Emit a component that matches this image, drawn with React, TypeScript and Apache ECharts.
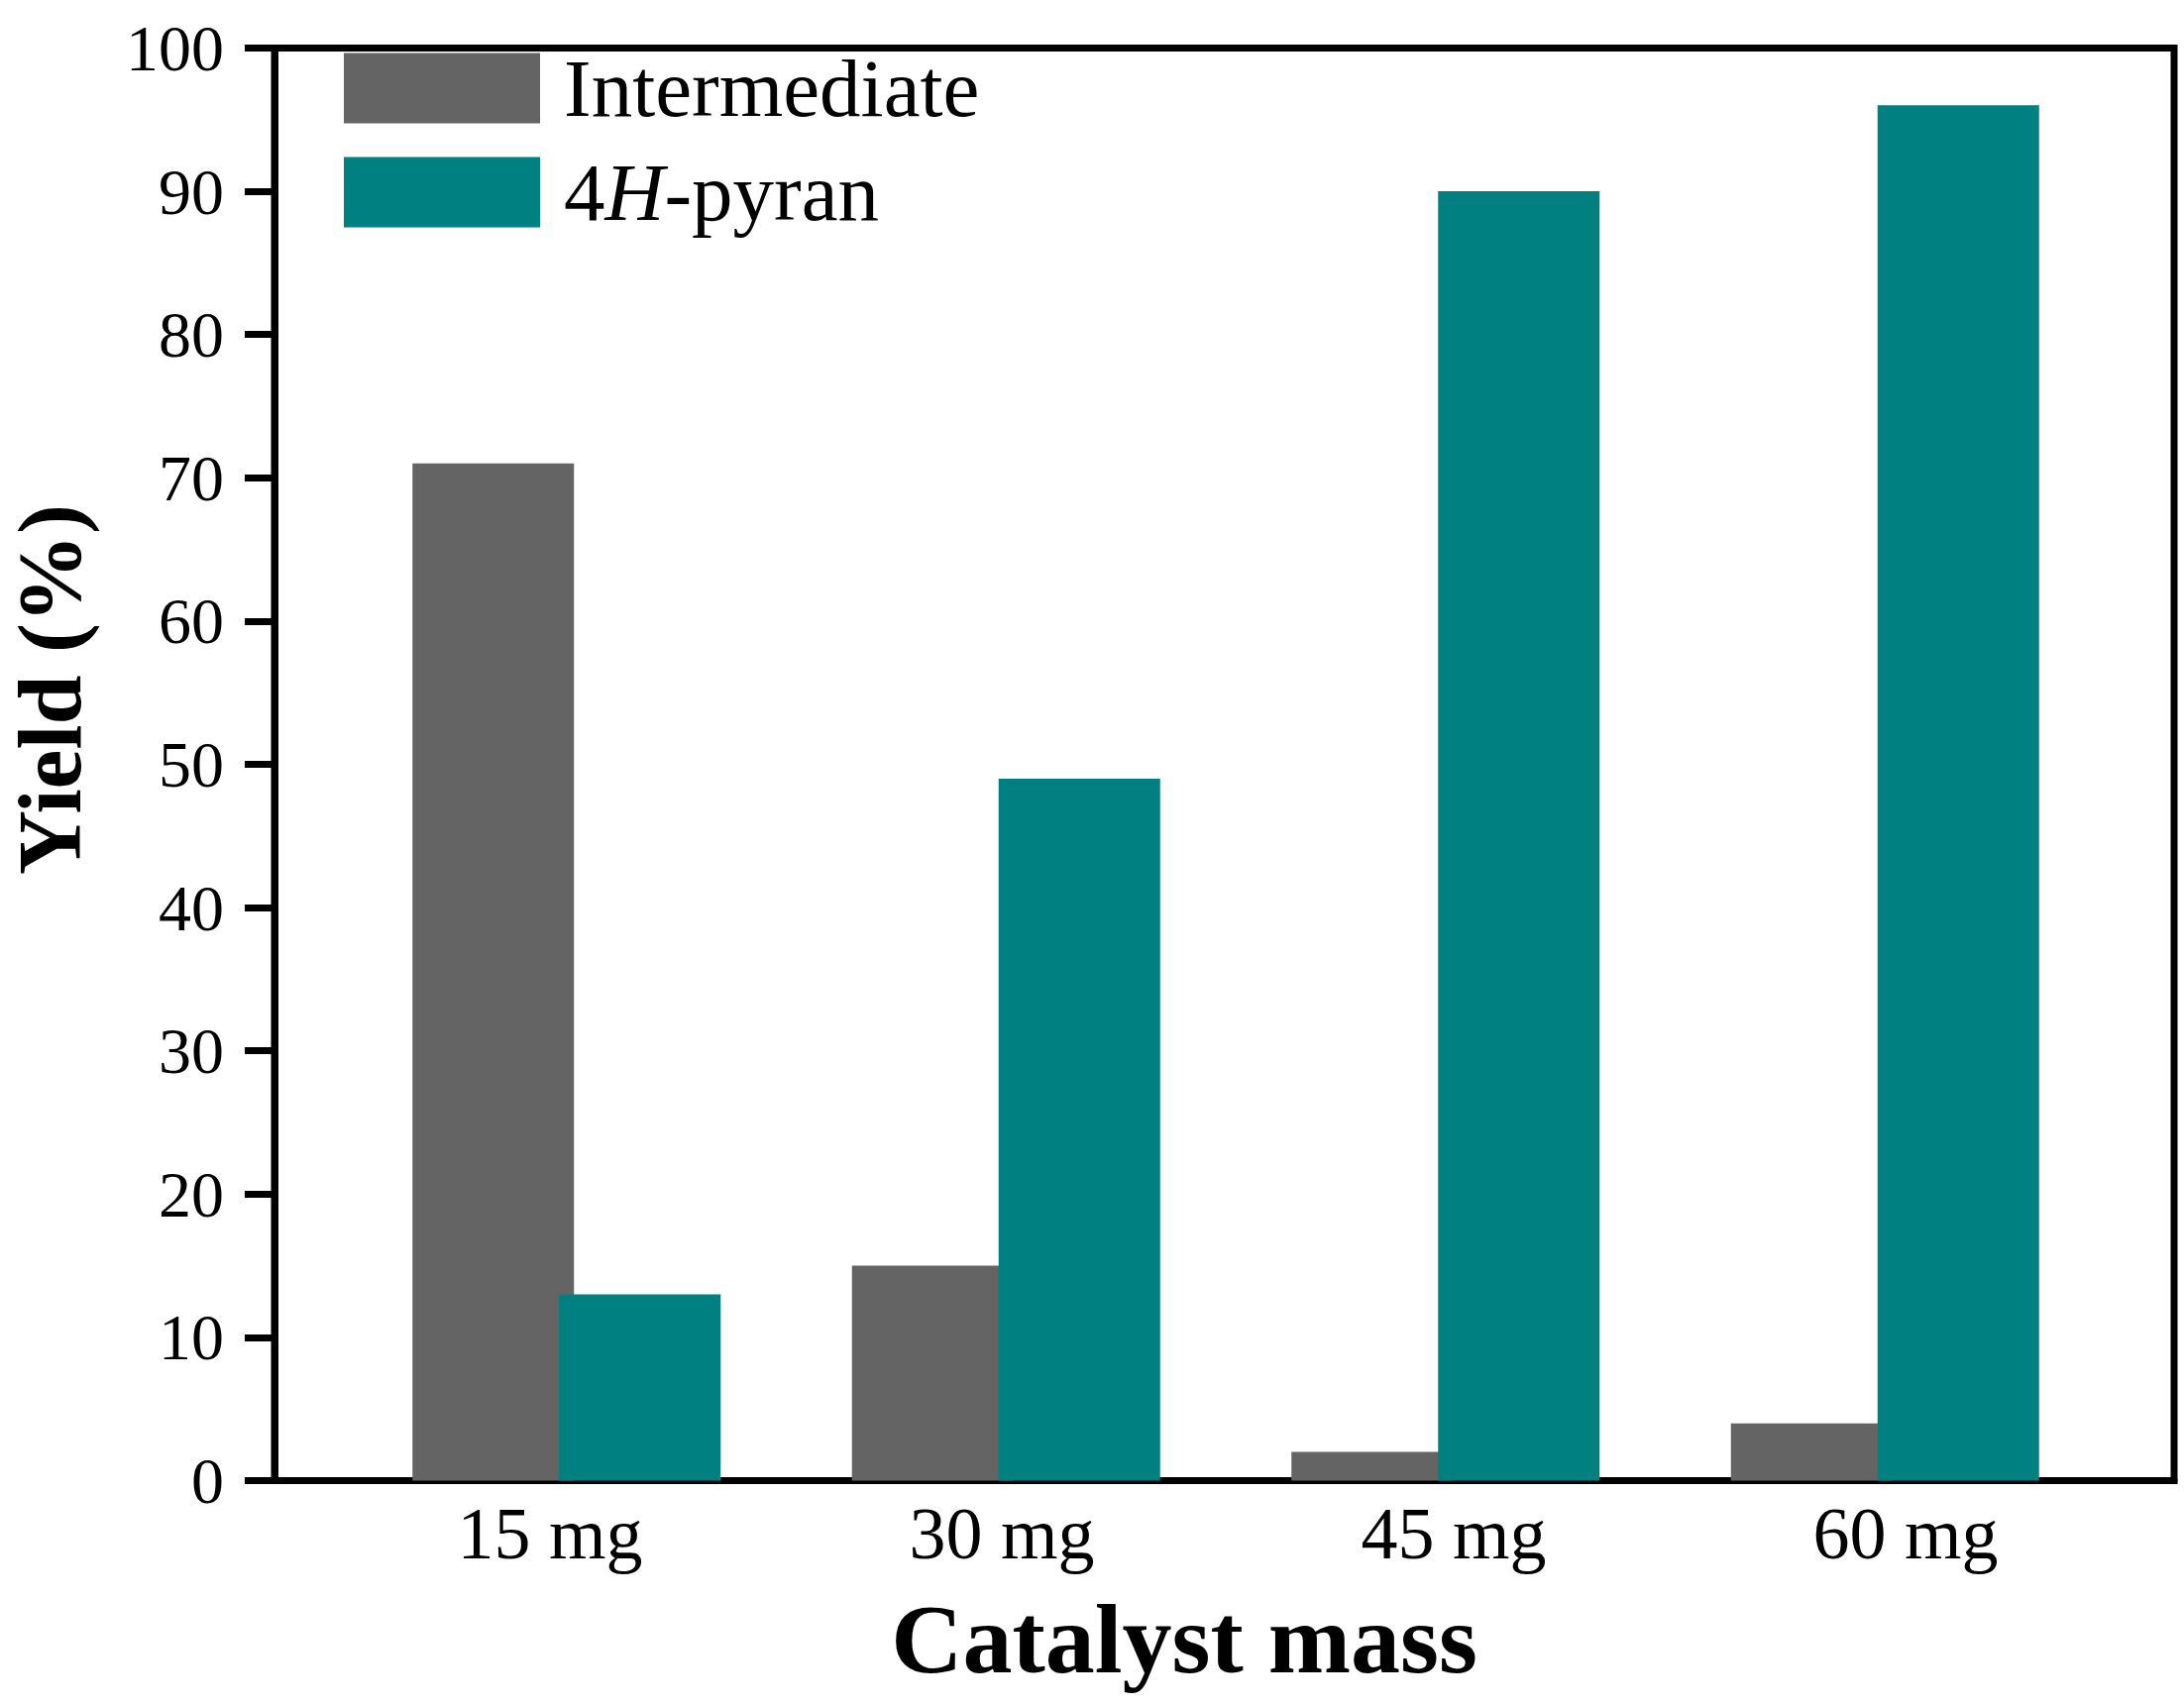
import { useEffect, useRef } from "react";
import * as echarts from "echarts";

const categories = ["15 mg", "30 mg", "45 mg", "60 mg"];
const intermediate = [71, 15, 2, 4];
const pyran = [13, 49, 90, 96];
const seriesNames = ["Intermediate", "4H-pyran"];

const GREY = "#646464";
const TEAL = "#008080";
const FONT = '"Liberation Serif", "Times New Roman", serif';

export default function App() {
  const ref = useRef<HTMLDivElement>(null);

  useEffect(() => {
    if (!ref.current) return;
    const chart = echarts.init(ref.current, undefined, { renderer: "svg" });

    chart.setOption({
      animation: false,
      backgroundColor: "#fff",
      // grid 0 = frame + y axis, grid 1 = bars, grid 2 = category labels
      grid: [
        {
          left: 277,
          right: 10,
          top: 48.5,
          bottom: 227.5,
          show: true,
          borderColor: "#000",
          borderWidth: 7,
        },
        { left: 350, right: 80, top: 48.5, bottom: 227.5 },
        { left: 327, right: 53, top: 48.5, bottom: 227.5 },
      ],
      legend: {
        data: seriesNames,
        orient: "vertical",
        left: 347,
        top: 47.5,
        padding: 0,
        itemWidth: 198,
        itemHeight: 71,
        itemGap: 22,
        icon: "rect",
        formatter: (name: string) =>
          name === "4H-pyran" ? "4{i|H}-pyran" : name,
        textStyle: {
          fontFamily: FONT,
          fontSize: 83,
          color: "#000",
          padding: [0, 0, 0, 19],
          rich: {
            i: {
              fontFamily: FONT,
              fontSize: 83,
              fontStyle: "italic",
              color: "#000",
            },
          },
        },
      },
      xAxis: [
        {
          type: "category",
          gridIndex: 0,
          data: categories,
          axisLine: { lineStyle: { color: "#000", width: 7 } },
          axisTick: { show: false },
          axisLabel: { show: false },
        },
        {
          type: "category",
          gridIndex: 1,
          data: categories,
          axisLine: { show: false },
          axisTick: { show: false },
          axisLabel: { show: false },
        },
        {
          type: "category",
          gridIndex: 2,
          data: categories,
          axisLine: { show: false },
          axisTick: { show: false },
          axisLabel: {
            margin: 16,
            fontFamily: FONT,
            fontSize: 74,
            color: "#000",
          },
        },
      ],
      yAxis: [
        {
          type: "value",
          gridIndex: 0,
          min: 0,
          max: 100,
          interval: 10,
          splitLine: { show: false },
          axisLine: { show: true, lineStyle: { color: "#000", width: 7 } },
          axisTick: {
            show: true,
            length: 30,
            lineStyle: { color: "#000", width: 7 },
          },
          axisLabel: {
            margin: 51,
            fontFamily: FONT,
            fontSize: 66,
            color: "#000",
            padding: [0, 0, 14, 0],
          },
        },
        {
          type: "value",
          gridIndex: 1,
          min: 0,
          max: 100,
          show: false,
          splitLine: { show: false },
        },
        {
          type: "value",
          gridIndex: 2,
          min: 0,
          max: 100,
          show: false,
          splitLine: { show: false },
        },
      ],
      graphic: [
        {
          type: "text",
          x: 50,
          y: 696,
          rotation: Math.PI / 2,
          style: {
            text: "Yield (%)",
            fontFamily: FONT,
            fontWeight: "bold",
            fontSize: 90,
            lineHeight: 80,
            fill: "#000",
            align: "center",
            verticalAlign: "middle",
          },
        },
        {
          type: "text",
          x: 1195,
          y: 1654,
          style: {
            text: "Catalyst mass",
            fontFamily: FONT,
            fontWeight: "bold",
            fontSize: 100,
            fill: "#000",
            align: "center",
            verticalAlign: "middle",
          },
        },
      ],
      series: [
        {
          name: seriesNames[0],
          type: "bar",
          xAxisIndex: 1,
          yAxisIndex: 1,
          data: intermediate,
          barWidth: 163,
          barGap: "-9.2%",
          itemStyle: { color: GREY },
        },
        {
          name: seriesNames[1],
          type: "bar",
          xAxisIndex: 1,
          yAxisIndex: 1,
          data: pyran,
          barWidth: 163,
          barGap: "-9.2%",
          itemStyle: { color: TEAL },
        },
      ],
    });

    return () => chart.dispose();
  }, []);

  return (
    <div
      ref={ref}
      style={{ position: "absolute", left: 0, top: 0, width: 2204, height: 1722 }}
    />
  );
}
